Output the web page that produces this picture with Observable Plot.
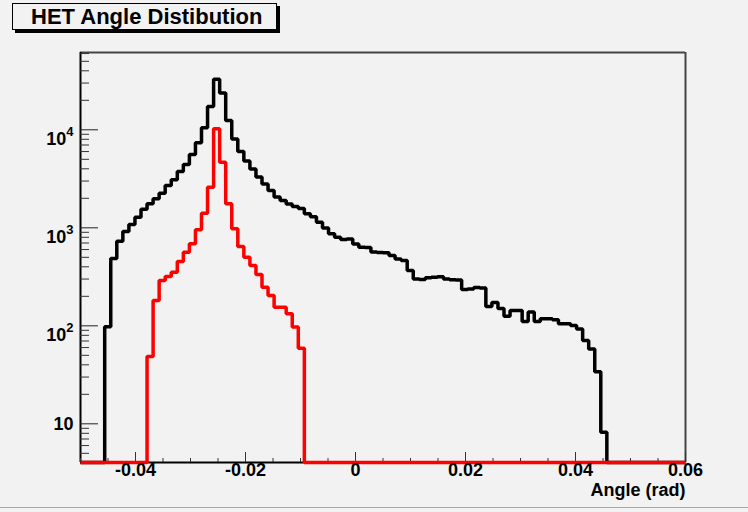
<!DOCTYPE html>
<html><head><meta charset="utf-8">
<script src="https://cdn.jsdelivr.net/npm/d3@7"></script>
<script src="https://cdn.jsdelivr.net/npm/@observablehq/plot@0.6"></script>
<style>
html,body{margin:0;padding:0;background:#f2f2f2;}
#wrap{position:relative;width:748px;height:512px;overflow:hidden;background:#f2f2f2;font-family:"Liberation Sans",Arial,Helvetica,sans-serif;}
#title{position:absolute;left:12px;top:3px;width:265px;height:27px;border:1px solid #000;box-shadow:3px 3px 0 #000;font-weight:bold;font-size:22px;line-height:25px;padding-left:18px;box-sizing:border-box;background:#f2f2f2;color:#000;white-space:nowrap;}
#bottomline{position:absolute;left:0;top:507px;width:748px;height:1px;background:#a8a8a8;}
#plot{position:absolute;left:0;top:0;}
</style></head>
<body><div id="wrap"><div id="plot"></div><div id="title">HET Angle Distibution</div><div id="bottomline"></div></div>
<script>
// ---- data ----
const xDomain = [-0.05, 0.06];
const nBins = 100;
const yDomain = [4.03, 61500];

const blackFirstBin = 4;
const blackCounts = [
  98, 486, 730, 917, 1081, 1283, 1548, 1757, 1977, 2255,
  2702, 3089, 3753, 4424, 5598, 7367, 10480, 17290, 32800, 23750,
  12440, 8056, 6005, 4804, 3981, 3299, 2798, 2403, 2062, 1899,
  1750, 1650, 1573, 1390, 1295, 1141, 995, 869, 802, 760,
  770, 683, 634, 630, 566, 560, 556, 521, 481, 464,
  367, 300, 297, 309, 313, 316, 300, 295, 293, 235,
  238, 246, 243, 157, 173, 150, 125, 143, 143, 111,
  138, 111, 118, 118, 115, 105, 105, 101, 93, 71,
  58, 34, 8.2
];

const redFirstBin = 11;
const redCounts = [
  48.7, 181, 290, 318, 352, 453, 564, 687, 955, 1409,
  2594, 10240, 4667, 1757, 977, 644, 501, 412, 334, 248,
  204, 155, 155, 133, 97, 59
];

const xTicks = [-0.04, -0.02, 0, 0.02, 0.04, 0.06];
const xTickLabels = ["-0.04", "-0.02", "0", "0.02", "0.04", "0.06"];
const yTicks = [10, 100, 1000, 10000];
const yTickBase = ["10", "10", "10", "10"];
const yTickExp = ["", "2", "3", "4"];
const xTitle = "Angle (rad)";

// ---- helpers ----
function stepPoints(first, counts) {
  const w = (xDomain[1] - xDomain[0]) / nBins;
  const pts = [];
  for (let k = 0; k < nBins; k++) {
    const i = k - first;
    const v = (i >= 0 && i < counts.length) ? counts[i] : 0;
    const y = Math.max(v, yDomain[0]);
    pts.push({x: xDomain[0] + k * w, y}, {x: xDomain[0] + (k + 1) * w, y});
  }
  return pts;
}
const xMinor = d3.range(0, 23).map(i => +(xDomain[0] + i * 0.005).toFixed(4));
const yMinor = [];
for (const dec of [1, 10, 100, 1000, 10000]) {
  for (let m = 2; m <= 9; m++) {
    const v = m * dec;
    if (v > yDomain[0] && v < yDomain[1]) yMinor.push(v);
  }
}

const W = 748, H = 512, ML = 80, MR = 63, MT = 52, MB = 50;
const FW = W - ML - MR, FH = H - MT - MB;

const yLabelData = yTicks.map((v, i) => ({v, base: yTickBase[i], exp: yTickExp[i]}));

const chart = Plot.plot({
  width: W, height: H,
  marginLeft: ML, marginRight: MR, marginTop: MT, marginBottom: MB,
  style: {background: "transparent", fontFamily: '"Liberation Sans", Arial, Helvetica, sans-serif'},
  x: {domain: xDomain, axis: null},
  y: {type: "log", domain: yDomain, axis: null},
  marks: [
    // frame top & right
    Plot.ruleY([yDomain[1]], {stroke: "#444", strokeWidth: 2}),
    Plot.ruleX([xDomain[1]], {stroke: "#444", strokeWidth: 2}),
    // axis lines
    Plot.ruleX([xDomain[0]], {stroke: "#000", strokeWidth: 2}),
    Plot.ruleY([yDomain[0]], {stroke: "#000", strokeWidth: 2}),
    // y ticks
    Plot.ruleY(yMinor, {insetRight: FW - 9, stroke: "#333", strokeWidth: 1}),
    Plot.ruleY(yTicks, {insetRight: FW - 18, stroke: "#222", strokeWidth: 1}),
    // x ticks
    Plot.ruleX(xMinor, {insetTop: FH - 4, stroke: "#333", strokeWidth: 1}),
    Plot.ruleX(xTicks, {insetTop: FH - 10, stroke: "#333", strokeWidth: 1}),
    // histograms
    Plot.line(stepPoints(blackFirstBin, blackCounts), {x: "x", y: "y", stroke: "#000", strokeWidth: 3.5, strokeLinejoin: "miter", strokeLinecap: "butt"}),
    Plot.line(stepPoints(redFirstBin, redCounts), {x: "x", y: "y", stroke: "#ff0000", strokeWidth: 3.5, strokeLinejoin: "miter", strokeLinecap: "butt"}),
    // x labels
    Plot.text(xTicks, {x: d => d, text: (d, i) => xTickLabels[i], frameAnchor: "bottom", dy: 13, fontSize: 18, fontWeight: "bold", fill: "#000"}),
    // y labels
    Plot.text(yLabelData, {y: "v", text: d => d.base + (d.exp ? "^" + d.exp : ""), frameAnchor: "left", dx: -7, textAnchor: "end", fontSize: 18, fontWeight: "bold", fill: "#000", className: "ylab"}),
    // x title
    Plot.text([xTitle], {frameAnchor: "bottom-right", dy: 33, textAnchor: "end", fontSize: 18, fontWeight: "bold", fill: "#000"})
  ]
});

// superscripts for log labels
d3.select(chart).selectAll("g.ylab text").each(function() {
  const t = this.textContent;
  const parts = t.split("^");
  if (parts.length === 2) {
    const sel = d3.select(this);
    sel.text(parts[0]);
    sel.attr("dy", "0.55em");
    sel.append("tspan").attr("font-size", 13).attr("dy", "-0.7em").text(parts[1]);
  }
});

document.getElementById("plot").appendChild(chart);
</script>
</body></html>
